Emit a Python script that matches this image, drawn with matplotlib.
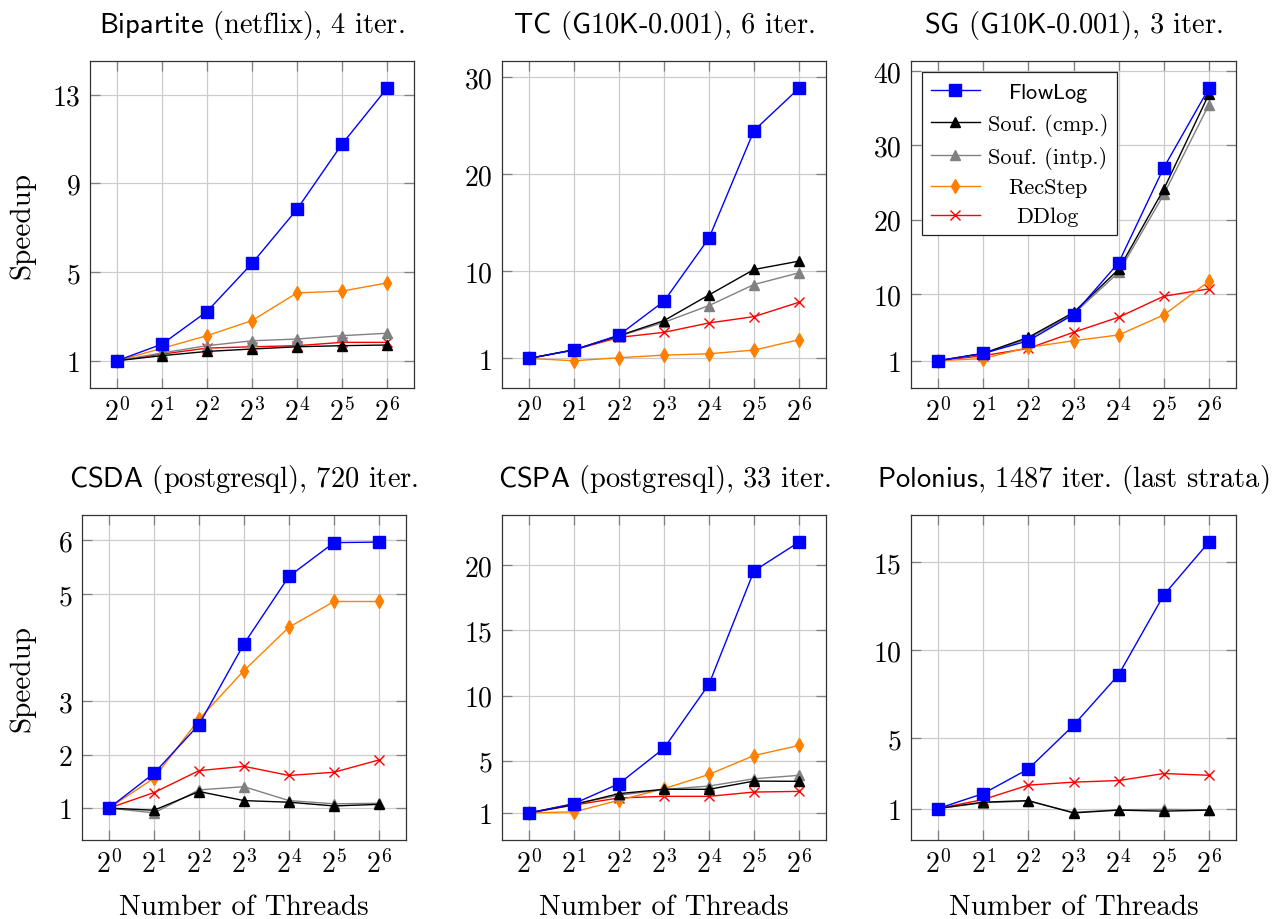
import matplotlib.pyplot as plt

plt.rcParams['font.family'] = 'serif'
plt.rcParams['font.serif'] = ['cmr10']
plt.rcParams['mathtext.fontset'] = 'cm'
plt.rcParams['axes.formatter.use_mathtext'] = True
plt.rcParams['axes.unicode_minus'] = False

# ---- data ----
EXPONENTS = [0, 1, 2, 3, 4, 5, 6]
THREADS = [2 ** e for e in EXPONENTS]
SERIES = ['FlowLog', 'Souf. (cmp.)', 'Souf. (intp.)', 'RecStep', 'DDlog']

# Bipartite (netflix)
BIP_FLOWLOG = [1.0, 1.75, 3.22, 5.39, 7.83, 10.77, 13.29]
BIP_SOUF_CMP = [1.0, 1.23, 1.42, 1.53, 1.63, 1.68, 1.71]
BIP_SOUF_INTP = [1.0, 1.35, 1.68, 1.90, 1.98, 2.13, 2.24]
BIP_RECSTEP = [1.0, 1.56, 2.13, 2.81, 4.06, 4.14, 4.51]
BIP_DDLOG = [1.0, 1.30, 1.57, 1.63, 1.68, 1.83, 1.83]

# TC (G10K-0.001)
TC_FLOWLOG = [1.0, 1.86, 3.41, 6.90, 13.41, 24.5, 28.86]
TC_SOUF_CMP = [1.0, 1.90, 3.34, 4.90, 7.55, 10.17, 11.03]
TC_SOUF_INTP = [1.0, 1.88, 3.30, 4.72, 6.45, 8.62, 9.83]
TC_RECSTEP = [1.0, 0.76, 1.07, 1.34, 1.48, 1.86, 2.93]
TC_DDLOG = [1.0, 1.88, 3.17, 3.69, 4.66, 5.31, 6.79]

# SG (G10K-0.001)
SG_FLOWLOG = [1.0, 1.99, 3.70, 7.22, 14.2, 27.0, 37.7]
SG_SOUF_CMP = [1.0, 2.00, 4.15, 7.50, 13.3, 24.1, 36.9]
SG_SOUF_INTP = [1.0, 1.90, 4.00, 7.30, 12.9, 23.4, 35.5]
SG_RECSTEP = [1.0, 1.30, 2.80, 3.70, 4.47, 7.17, 11.7]
SG_DDLOG = [1.0, 1.68, 2.67, 4.83, 6.86, 9.69, 10.68]

# CSDA (postgresql)
CSDA_FLOWLOG = [1.0, 1.65, 2.56, 4.07, 5.33, 5.96, 5.97]
CSDA_SOUF_CMP = [1.0, 0.96, 1.31, 1.14, 1.11, 1.04, 1.07]
CSDA_SOUF_INTP = [1.0, 0.91, 1.34, 1.40, 1.14, 1.08, 1.09]
CSDA_RECSTEP = [1.0, 1.56, 2.66, 3.57, 4.38, 4.86, 4.86]
CSDA_DDLOG = [1.0, 1.29, 1.70, 1.78, 1.61, 1.67, 1.90]

# CSPA (postgresql)
CSPA_FLOWLOG = [1.0, 1.71, 3.24, 5.96, 10.87, 19.55, 21.76]
CSPA_SOUF_CMP = [1.0, 1.64, 2.48, 2.81, 2.81, 3.44, 3.42]
CSPA_SOUF_INTP = [1.0, 1.70, 2.35, 2.80, 3.06, 3.62, 3.88]
CSPA_RECSTEP = [1.0, 1.08, 1.97, 2.86, 3.95, 5.40, 6.17]
CSPA_DDLOG = [1.0, 1.60, 2.15, 2.27, 2.27, 2.60, 2.65]

# Polonius (no RecStep run)
POL_FLOWLOG = [1.0, 1.85, 3.25, 5.73, 8.61, 13.14, 16.15]
POL_SOUF_CMP = [1.0, 1.36, 1.45, 0.75, 0.91, 0.85, 0.91]
POL_SOUF_INTP = [1.0, 1.33, 1.42, 0.78, 0.93, 0.95, 0.93]
POL_DDLOG = [1.0, 1.51, 2.33, 2.50, 2.59, 2.99, 2.89]

TITLES = [
    r'$\mathsf{Bipartite}$ (netflix), 4 iter.',
    r'$\mathsf{TC}$ ($\mathsf{G10K}$-$\mathsf{0.001}$), 6 iter.',
    r'$\mathsf{SG}$ ($\mathsf{G10K}$-$\mathsf{0.001}$), 3 iter.',
    r'$\mathsf{CSDA}$ (postgresql), 720 iter.',
    r'$\mathsf{CSPA}$ (postgresql), 33 iter.',
    r'$\mathsf{Polonius}$, 1487 iter. (last strata)',
]
YTICKS = [
    [1, 5, 9, 13],
    [1, 10, 20, 30],
    [1, 10, 20, 30, 40],
    [1, 2, 3, 5, 6],
    [1, 5, 10, 15, 20],
    [1, 5, 10, 15],
]
PANEL_DATA = [
    [BIP_FLOWLOG, BIP_SOUF_CMP, BIP_SOUF_INTP, BIP_RECSTEP, BIP_DDLOG],
    [TC_FLOWLOG, TC_SOUF_CMP, TC_SOUF_INTP, TC_RECSTEP, TC_DDLOG],
    [SG_FLOWLOG, SG_SOUF_CMP, SG_SOUF_INTP, SG_RECSTEP, SG_DDLOG],
    [CSDA_FLOWLOG, CSDA_SOUF_CMP, CSDA_SOUF_INTP, CSDA_RECSTEP, CSDA_DDLOG],
    [CSPA_FLOWLOG, CSPA_SOUF_CMP, CSPA_SOUF_INTP, CSPA_RECSTEP, CSPA_DDLOG],
    [POL_FLOWLOG, POL_SOUF_CMP, POL_SOUF_INTP, None, POL_DDLOG],
]

# ---- styles ----
STYLE = {
    'FlowLog':       dict(color='#0000ff', marker='s', ms=8.5, z=6),
    'Souf. (cmp.)':  dict(color='#000000', marker='^', ms=7.5, z=5),
    'Souf. (intp.)': dict(color='#808080', marker='^', ms=7.5, z=4),
    'RecStep':       dict(color='#ff8000', marker='d', ms=7.0, z=3),
    'DDlog':         dict(color='#ff0000', marker='x', ms=7.0, z=2),
}
LEGEND_LABELS = {'FlowLog': r'$\mathsf{FlowLog}$'}

W, H = 1282, 920
# axes boxes in pixels: left, top, right, bottom
BOXES = [
    (90, 62, 414, 389), (502, 62, 826, 389), (911, 62, 1236, 389),
    (82, 516, 406, 841), (502, 516, 826, 841), (911, 516, 1236, 841),
]

fig = plt.figure(figsize=(W / 100, H / 100), dpi=100)
fig.patch.set_facecolor('white')

axes = []
for i, (l, t, r, b) in enumerate(BOXES):
    ax = fig.add_axes([l / W, 1 - b / H, (r - l) / W, (b - t) / H])
    axes.append(ax)
    for name, ys in zip(SERIES, PANEL_DATA[i]):
        if ys is None:
            continue
        st = STYLE[name]
        ax.plot(THREADS, ys, color=st['color'], marker=st['marker'],
                markersize=st['ms'], lw=1.0, mew=1.0, zorder=st['z'],
                label=LEGEND_LABELS.get(name, name), clip_on=False)
    ax.set_xscale('log', base=2)
    ax.set_xticks(THREADS)
    ax.set_xticklabels([r'$2^{%d}$' % e for e in EXPONENTS])
    ax.minorticks_off()
    ax.margins(x=0.1, y=0.1)
    ax.set_yticks(YTICKS[i])
    ax.set_yticklabels([str(v) for v in YTICKS[i]])
    ax.grid(True, color='#cccccc', lw=0.9)
    ax.set_axisbelow(True)
    ax.tick_params(direction='in', top=True, right=True, length=7, width=0.9,
                   color='#808080', labelsize=20, pad=7)
    for sp in ax.spines.values():
        sp.set_color('#333333')
        sp.set_linewidth(0.9)
    ax.set_title(TITLES[i], fontsize=20.5, pad=21)
    if i % 3 == 0:
        ax.set_ylabel('Speedup', fontsize=21)
        ax.yaxis.set_label_coords((35 - l) / (r - l), 0.5)
    if i >= 3:
        ax.set_xlabel('Number of Threads', fontsize=21)
        ax.xaxis.set_label_coords(0.5, -0.165)

# legend in the SG panel
ax = axes[2]
h, lab = ax.get_legend_handles_labels()
leg = ax.legend(h, lab, loc='upper left',
                bbox_to_anchor=(11 / 325, 1 - 11 / 327), borderaxespad=0,
                fontsize=16, frameon=True, fancybox=False, framealpha=1,
                edgecolor='#222222', handlelength=2.2, handletextpad=0.35,
                labelspacing=0.42, borderpad=0.4)
leg.get_frame().set_linewidth(0.9)
leg.set_zorder(10)

# center the labels in the legend column like pgfplots
fig.canvas.draw()
texts = leg.get_texts()
widths = [t.get_window_extent().width for t in texts]
wmax = max(widths)
for t, w in zip(texts, widths):
    t.set_x((wmax - w) / 2)

fig.savefig('out.png', dpi=100, facecolor='white')
